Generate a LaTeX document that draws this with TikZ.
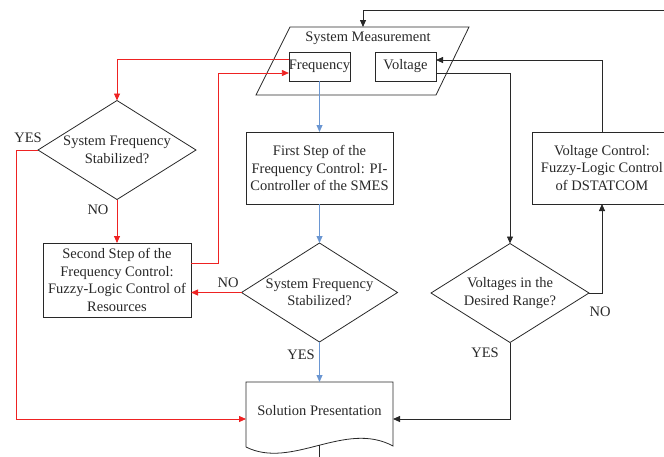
\documentclass[tikz,border=0pt]{standalone}
\usepackage{fontspec}
\setmainfont{Liberation Serif}
\usetikzlibrary{arrows.meta,shapes.geometric}
\definecolor{lc}{RGB}{40,40,40}
\definecolor{rc}{RGB}{238,34,34}
\definecolor{bc}{RGB}{106,150,210}
\begin{document}
\begin{tikzpicture}[x=1pt,y=-1pt,
  every node/.style={font=\fontsize{14.5}{17.5}\selectfont, text=lc},
  box/.style={draw=lc, line width=0.8pt, align=center, inner sep=0pt, outer sep=0pt},
  dia/.style={diamond, draw=lc, line width=0.8pt, inner sep=0pt, outer sep=0pt, minimum width=158pt, minimum height=99pt},
  lbl/.style={inner sep=0pt},
  blk/.style={draw=lc, line width=0.8pt, -{Triangle[length=7pt,width=6pt]}},
  redarrow/.style={draw=rc, line width=0.8pt, -{Triangle[length=7pt,width=6pt]}},
  bluearrow/.style={draw=bc, line width=0.8pt, -{Triangle[length=7pt,width=6pt]}},
]
\useasboundingbox (0,0) rectangle (664,456);

% System measurement parallelogram
\coordinate (pA) at (256,95);
\coordinate (pB) at (436,95);
\coordinate (pC) at (469,27);
\coordinate (pD) at (290,27);
\draw[draw=lc, line width=0.8pt] (pA) -- (pB) -- (pC) -- (pD) -- cycle;
\node (meas) at (368,38) {System Measurement};
\coordinate (mtop) at (363,27);
\node[box, minimum width=61pt, minimum height=29pt] (freq) at (319.5,66.5) {Frequency};
\node[box, minimum width=61pt, minimum height=29pt] (volt) at (405.5,66.5) {Voltage};

% boxes
\node[box, minimum width=147pt, minimum height=72pt] (first) at (319.5,168) {First Step of the\\Frequency Control: PI-\\Controller of the SMES};
\node[box, minimum width=148pt, minimum height=74pt] (second) at (117,280) {Second Step of the\\Frequency Control:\\Fuzzy-Logic Control of\\Resources};
\node[box, minimum width=140pt, minimum height=72pt] (vc) at (602,168) {Voltage Control:\\Fuzzy-Logic Control\\of DSTATCOM};

% diamonds
\node[dia] (d1) at (117,150) {};
\node[align=center] at (d1) {System Frequency\\Stabilized?};
\node[dia, minimum width=156pt] (d2) at (319.5,292.5) {};
\node[align=center] at (d2) {System Frequency\\Stabilized?};
\node[dia] (d3) at (510,293) {};
\node[align=center] at (d3) {Voltages in the\\Desired Range?};

% solution presentation (document shape)
\node[minimum width=147pt, minimum height=74pt, inner sep=0pt, outer sep=0pt] (sol) at (319.5,419) {};
\draw[draw=lc, line width=0.8pt] (246,447) -- (246,382) -- (393,382) -- (393,446)
  .. controls (345,420) and (292,470) .. (246,447);
\node (soltxt) at (319.5,411) {Solution Presentation};
\coordinate (wavemid) at (319.5,445.4);
\coordinate (solout) at (319.5,470);
\draw[draw=lc, line width=0.8pt] (wavemid) -- (solout);

% blue connectors
\draw[bluearrow] (freq.south) -- (first.north);
\draw[bluearrow] (first.south) -- (d2.north);
\draw[bluearrow] (d2.south) -- (sol.north);

% red connectors
\draw[redarrow] ([yshift=7.5pt]freq.west) -| (d1.north);
\draw[redarrow] (d1.south) -- (second.north);
\draw[redarrow] ([yshift=17pt]second.east) -- ++(27,0) |- ([yshift=-6.5pt]freq.west);
\draw[redarrow] (d2.west) -- (second.east |- d2.west);
\draw[redarrow] (d1.west) -- ++(-22,0) |- (sol.west);

% black connectors
\draw[blk] ([yshift=-6.5pt]volt.east) -| (d3.north);
\draw[blk] (d3.east) -| (vc.south);
\draw[blk] (vc.north) |- ([yshift=6.5pt]volt.east);
\draw[blk] (d3.south) |- (sol.east);
\coordinate (topR) at (680,10);
\draw[blk] (topR) -| (mtop);

% labels
\node[lbl] at (28,138) {YES};
\node[lbl] at (98,210) {NO};
\node[lbl] at (228,283) {NO};
\node[lbl] at (301,355) {YES};
\node[lbl] at (485,353) {YES};
\node[lbl] at (600,312) {NO};
\end{tikzpicture}
\end{document}
